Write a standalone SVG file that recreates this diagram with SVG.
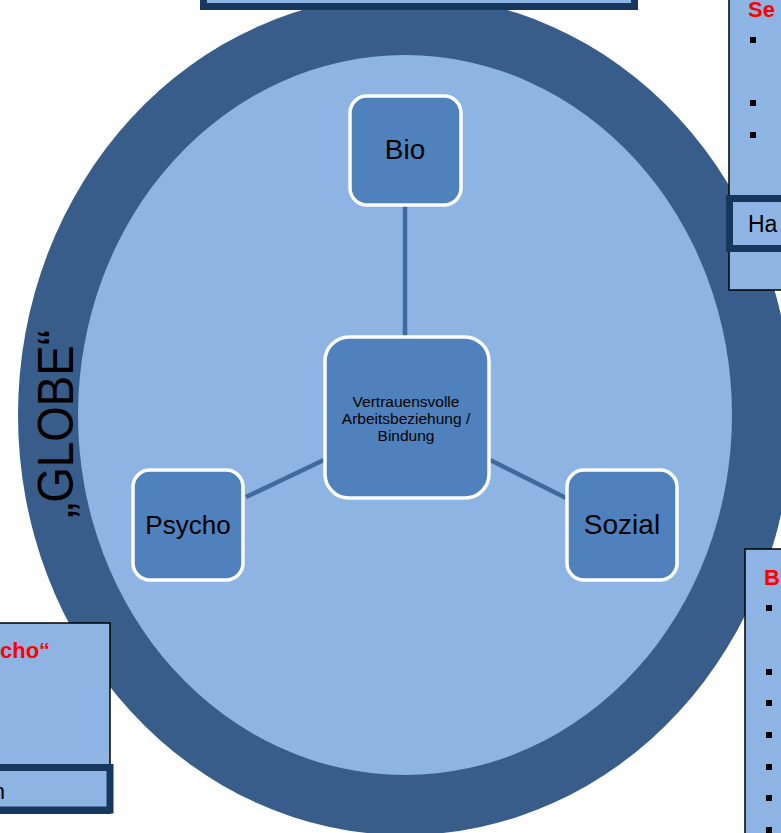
<svg xmlns="http://www.w3.org/2000/svg" width="781" height="833" viewBox="0 0 781 833">
<style>
.node rect{fill:#4f81bd;stroke:#ffffff;stroke-width:3.5}
.lbl{font-family:"Liberation Sans",Arial,sans-serif;fill:#000;text-anchor:middle}
.conn line{stroke:#3f6a9c;stroke-width:4.5}
.panel{fill:#8eb4e3;stroke:#000;stroke-width:1.5}
.thick{fill:#8eb4e3;stroke:#17375e;stroke-width:7}
.red{font-family:"Liberation Sans",Arial,sans-serif;font-weight:bold;fill:#ff0000;font-size:22px}
.bul{fill:#000}
</style>
<g id="globe">
<ellipse cx="405" cy="415" rx="387" ry="420" fill="#385d8a"/>
<ellipse cx="405" cy="415" rx="327" ry="360" fill="#8eb4e3"/>
<text class="lbl" transform="translate(73,424) rotate(-90)" font-size="50" textLength="188" lengthAdjust="spacingAndGlyphs">„GLOBE“</text>
</g>
<g id="connectors" class="conn">
<line x1="405" y1="205" x2="405" y2="337"/>
<line x1="246" y1="497" x2="326" y2="459"/>
<line x1="488" y1="459" x2="566" y2="498"/>
</g>
<g id="node-bio" class="node">
<rect x="350" y="96" width="111" height="109" rx="17"/>
<text class="lbl" x="405" y="159" font-size="28">Bio</text>
</g>
<g id="node-center" class="node">
<rect x="325" y="337" width="164" height="161" rx="24"/>
<text class="lbl" font-size="15.5"><tspan x="406" y="407">Vertrauensvolle</tspan><tspan x="406" y="424">Arbeitsbeziehung /</tspan><tspan x="406" y="441">Bindung</tspan></text>
</g>
<g id="node-psycho" class="node">
<rect x="133" y="470" width="110" height="110" rx="17"/>
<text class="lbl" x="188" y="534" font-size="26">Psycho</text>
</g>
<g id="node-sozial" class="node">
<rect x="567" y="470" width="110" height="110" rx="17"/>
<text class="lbl" x="622" y="534" font-size="28">Sozial</text>
</g>
<g id="top-box">
<rect x="203.5" y="-50" width="431" height="56.5" class="thick"/>
</g>
<g id="right-top-box">
<rect x="729" y="-20" width="80" height="310" class="panel"/>
<text class="red" x="748" y="17">Se</text>
<rect class="bul" x="750" y="37" width="6" height="6"/>
<rect class="bul" x="750" y="100" width="6" height="6"/>
<rect class="bul" x="750" y="132" width="6" height="6"/>
<rect x="729.5" y="198.5" width="80" height="50" class="thick"/>
<text x="748" y="232" font-family="Liberation Sans, Arial, sans-serif" font-size="23" fill="#000">Ha</text>
</g>
<g id="left-bottom-box">
<rect x="-20" y="623" width="130" height="190" class="panel"/>
<text class="red" x="0" y="658">cho“</text>
<rect x="-20" y="767.5" width="130" height="42.5" class="thick"/>
<text x="5" y="799" font-family="Liberation Sans, Arial, sans-serif" font-size="22" fill="#000" text-anchor="end">n</text>
</g>
<g id="right-bottom-box">
<rect x="745" y="549" width="60" height="300" class="panel"/>
<text class="red" x="764" y="585">B</text>
<rect class="bul" x="766" y="605" width="6" height="6"/>
<rect class="bul" x="766" y="669" width="6" height="6"/>
<rect class="bul" x="766" y="700" width="6" height="6"/>
<rect class="bul" x="766" y="732" width="6" height="6"/>
<rect class="bul" x="766" y="764" width="6" height="6"/>
<rect class="bul" x="766" y="795" width="6" height="6"/>
<rect class="bul" x="766" y="827" width="6" height="6"/>
</g>
</svg>
